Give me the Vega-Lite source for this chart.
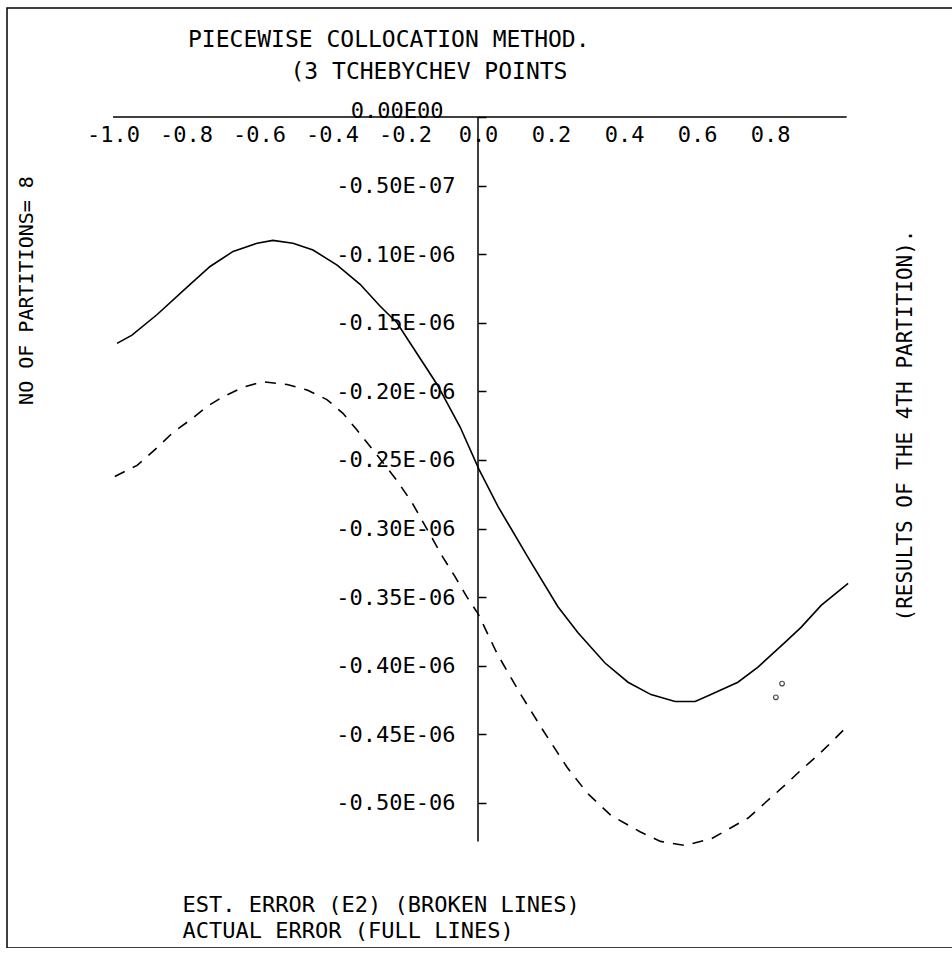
{
  "$schema": "https://vega.github.io/schema/vega-lite/v6.json",
  "width": 953,
  "height": 940,
  "autosize": {"type": "none"},
  "padding": {"left": 7, "top": 8, "right": 0, "bottom": 0},
  "background": "white",
  "config": {
    "view": {"stroke": "black", "strokeWidth": 1.5},
    "font": "DejaVu Sans Mono",
    "axis": {"labelFont": "DejaVu Sans Mono", "titleFont": "DejaVu Sans Mono", "labelColor": "black", "titleColor": "black", "grid": false, "titleFontWeight": "normal"}
  },
  "title": {
    "text": "PIECEWISE COLLOCATION METHOD.",
    "anchor": "start",
    "frame": "group",
    "orient": "top",
    "offset": -44,
    "dx": 181,
    "font": "DejaVu Sans Mono",
    "fontSize": 23,
    "fontWeight": "normal",
    "color": "black"
  },
  "datasets": {
    "curves": [
      {"series": "Actual error", "x": -0.989, "err": -0.165},
      {"series": "Actual error", "x": -0.948, "err": -0.159},
      {"series": "Actual error", "x": -0.879, "err": -0.144},
      {"series": "Actual error", "x": -0.797, "err": -0.124},
      {"series": "Actual error", "x": -0.734, "err": -0.109},
      {"series": "Actual error", "x": -0.671, "err": -0.098},
      {"series": "Actual error", "x": -0.605, "err": -0.092},
      {"series": "Actual error", "x": -0.562, "err": -0.090},
      {"series": "Actual error", "x": -0.507, "err": -0.092},
      {"series": "Actual error", "x": -0.452, "err": -0.097},
      {"series": "Actual error", "x": -0.386, "err": -0.108},
      {"series": "Actual error", "x": -0.323, "err": -0.122},
      {"series": "Actual error", "x": -0.268, "err": -0.138},
      {"series": "Actual error", "x": -0.222, "err": -0.150},
      {"series": "Actual error", "x": -0.178, "err": -0.168},
      {"series": "Actual error", "x": -0.112, "err": -0.195},
      {"series": "Actual error", "x": -0.049, "err": -0.226},
      {"series": "Actual error", "x": 0.003, "err": -0.257},
      {"series": "Actual error", "x": 0.055, "err": -0.284},
      {"series": "Actual error", "x": 0.137, "err": -0.321},
      {"series": "Actual error", "x": 0.219, "err": -0.357},
      {"series": "Actual error", "x": 0.274, "err": -0.376},
      {"series": "Actual error", "x": 0.348, "err": -0.398},
      {"series": "Actual error", "x": 0.411, "err": -0.412},
      {"series": "Actual error", "x": 0.474, "err": -0.421},
      {"series": "Actual error", "x": 0.540, "err": -0.426},
      {"series": "Actual error", "x": 0.595, "err": -0.426},
      {"series": "Actual error", "x": 0.638, "err": -0.421},
      {"series": "Actual error", "x": 0.712, "err": -0.412},
      {"series": "Actual error", "x": 0.767, "err": -0.401},
      {"series": "Actual error", "x": 0.841, "err": -0.383},
      {"series": "Actual error", "x": 0.885, "err": -0.372},
      {"series": "Actual error", "x": 0.940, "err": -0.356},
      {"series": "Actual error", "x": 1.014, "err": -0.340},
      {"series": "Estimated error (E2)", "x": -0.995, "err": -0.262},
      {"series": "Estimated error (E2)", "x": -0.934, "err": -0.254},
      {"series": "Estimated error (E2)", "x": -0.879, "err": -0.241},
      {"series": "Estimated error (E2)", "x": -0.836, "err": -0.230},
      {"series": "Estimated error (E2)", "x": -0.789, "err": -0.221},
      {"series": "Estimated error (E2)", "x": -0.742, "err": -0.211},
      {"series": "Estimated error (E2)", "x": -0.699, "err": -0.204},
      {"series": "Estimated error (E2)", "x": -0.644, "err": -0.197},
      {"series": "Estimated error (E2)", "x": -0.589, "err": -0.193},
      {"series": "Estimated error (E2)", "x": -0.523, "err": -0.195},
      {"series": "Estimated error (E2)", "x": -0.468, "err": -0.199},
      {"series": "Estimated error (E2)", "x": -0.414, "err": -0.206},
      {"series": "Estimated error (E2)", "x": -0.370, "err": -0.216},
      {"series": "Estimated error (E2)", "x": -0.332, "err": -0.228},
      {"series": "Estimated error (E2)", "x": -0.275, "err": -0.247},
      {"series": "Estimated error (E2)", "x": -0.222, "err": -0.265},
      {"series": "Estimated error (E2)", "x": -0.181, "err": -0.281},
      {"series": "Estimated error (E2)", "x": -0.096, "err": -0.321},
      {"series": "Estimated error (E2)", "x": -0.063, "err": -0.335},
      {"series": "Estimated error (E2)", "x": -0.030, "err": -0.350},
      {"series": "Estimated error (E2)", "x": 0.000, "err": -0.362},
      {"series": "Estimated error (E2)", "x": 0.052, "err": -0.391},
      {"series": "Estimated error (E2)", "x": 0.115, "err": -0.420},
      {"series": "Estimated error (E2)", "x": 0.178, "err": -0.447},
      {"series": "Estimated error (E2)", "x": 0.244, "err": -0.474},
      {"series": "Estimated error (E2)", "x": 0.300, "err": -0.493},
      {"series": "Estimated error (E2)", "x": 0.364, "err": -0.509},
      {"series": "Estimated error (E2)", "x": 0.444, "err": -0.521},
      {"series": "Estimated error (E2)", "x": 0.500, "err": -0.528},
      {"series": "Estimated error (E2)", "x": 0.567, "err": -0.531},
      {"series": "Estimated error (E2)", "x": 0.640, "err": -0.526},
      {"series": "Estimated error (E2)", "x": 0.740, "err": -0.511},
      {"series": "Estimated error (E2)", "x": 0.786, "err": -0.500},
      {"series": "Estimated error (E2)", "x": 0.841, "err": -0.487},
      {"series": "Estimated error (E2)", "x": 0.885, "err": -0.476},
      {"series": "Estimated error (E2)", "x": 0.932, "err": -0.465},
      {"series": "Estimated error (E2)", "x": 0.967, "err": -0.456},
      {"series": "Estimated error (E2)", "x": 1.008, "err": -0.445}
    ],
    "circles": [
      {"x": 0.833, "err": -0.413},
      {"x": 0.816, "err": -0.423}
    ]
  },
  "layer": [
    {
      "data": {"name": "curves"},
      "transform": [{"filter": "datum.series == 'Actual error'"}],
      "mark": {"type": "line", "color": "black", "strokeWidth": 1.6},
      "encoding": {
        "x": {
          "field": "x", "type": "quantitative",
          "scale": {"domain": [-1.2904, 1.3205], "nice": false, "zero": false},
          "axis": {
            "orient": "bottom", "offset": -831, "domain": false, "ticks": false, "grid": false,
            "values": [-1, -0.8, -0.6, -0.4, -0.2, 0, 0.2, 0.4, 0.6, 0.8],
            "labelExpr": "(datum.value < -0.001 ? '-' : '') + format(abs(datum.value), '.1f')",
            "labelFontSize": 22, "labelPadding": 7, "title": null,
            "labelFlush": false, "labelOverlap": false
          }
        },
        "y": {
          "field": "err", "type": "quantitative",
          "scale": {"domain": [-0.6057, 0.0794], "nice": false, "zero": false},
          "axis": {
            "orient": "left", "offset": -471, "domain": false, "grid": false, "ticks": false,
            "values": [0, -0.05, -0.1, -0.15, -0.2, -0.25, -0.3, -0.35, -0.4, -0.45, -0.5],
            "labelExpr": "datum.value > -0.001 ? '0.00E00' : (datum.value > -0.06 ? '-0.50E-07' : '-' + format(abs(datum.value), '.2f') + 'E-06')",
            "labelFontSize": 22,
            "labelPadding": {"condition": {"test": "datum.value == 0", "value": 35}, "value": 23},
            "labelOffset": {"condition": {"test": "datum.value == 0", "value": -6}, "value": 0},
            "title": null,
            "labelFlush": false, "labelOverlap": false
          }
        }
      }
    },
    {
      "data": {"name": "curves"},
      "transform": [{"filter": "datum.series == 'Estimated error (E2)'"}],
      "mark": {"type": "line", "color": "black", "strokeWidth": 1.6, "strokeDash": [11, 9]},
      "encoding": {
        "x": {
          "field": "x", "type": "quantitative",
          "scale": {"domain": [-1.2904, 1.3205], "nice": false, "zero": false},
          "axis": {
            "orient": "top", "domain": false, "ticks": false, "labels": false, "grid": false,
            "title": "(3 TCHEBYCHEV POINTS",
            "titleX": 283, "titleY": 63, "titleAlign": "left", "titleAnchor": "start",
            "titleBaseline": "middle", "titleAngle": 0,
            "titleFontSize": 23, "titleFontWeight": "normal"
          }
        },
        "y": {
          "field": "err", "type": "quantitative",
          "scale": {"domain": [-0.6057, 0.0794], "nice": false, "zero": false},
          "axis": {
            "orient": "right", "offset": -482, "domain": false, "grid": false, "labels": false,
            "tickSize": 8, "tickColor": "black", "tickWidth": 1.5,
            "values": [0, -0.05, -0.1, -0.15, -0.2, -0.25, -0.3, -0.35, -0.4, -0.45, -0.5],
            "title": null
          }
        }
      }
    },
    {
      "data": {"name": "circles"},
      "mark": {"type": "point", "shape": "circle", "filled": false, "color": "black", "size": 22, "strokeWidth": 1.2},
      "encoding": {
        "x": {"field": "x", "type": "quantitative", "scale": {"domain": [-1.2904, 1.3205], "nice": false, "zero": false}, "axis": null},
        "y": {"field": "err", "type": "quantitative", "scale": {"domain": [-0.6057, 0.0794], "nice": false, "zero": false}, "axis": null}
      }
    },
    {
      "data": {"values": [{}]},
      "mark": {"type": "rule", "color": "black", "strokeWidth": 1.5},
      "encoding": {
        "x": {"datum": -1.0, "type": "quantitative", "scale": {"domain": [-1.2904, 1.3205], "nice": false, "zero": false}, "axis": null},
        "x2": {"datum": 1.01},
        "y": {
          "datum": 0, "type": "quantitative",
          "scale": {"domain": [-0.6057, 0.0794], "nice": false, "zero": false},
          "axis": {
            "orient": "right", "domain": false, "ticks": false, "labels": false, "grid": false,
            "title": "(RESULTS OF THE 4TH PARTITION).",
            "titleAngle": 270, "titleX": -55, "titleY": 417,
            "titleAlign": "center", "titleBaseline": "middle",
            "titleFontSize": 21, "titleFontWeight": "normal"
          }
        }
      }
    },
    {
      "data": {"values": [{}]},
      "mark": {"type": "rule", "color": "black", "strokeWidth": 1.5},
      "encoding": {
        "x": {
          "datum": 0, "type": "quantitative",
          "scale": {"domain": [-1.2904, 1.3205], "nice": false, "zero": false},
          "axis": {
            "orient": "bottom", "domain": false, "ticks": false, "labels": false, "grid": false,
            "title": ["EST. ERROR (E2) (BROKEN LINES)", "ACTUAL ERROR (FULL LINES)"],
            "titleX": 175, "titleY": -54, "titleAlign": "left", "titleAnchor": "start",
            "titleBaseline": "top", "titleLineHeight": 26, "titleFontSize": 22, "titleFontWeight": "normal"
          }
        },
        "y": {
          "datum": 0, "type": "quantitative",
          "scale": {"domain": [-0.6057, 0.0794], "nice": false, "zero": false},
          "axis": {
            "orient": "left", "domain": false, "ticks": false, "labels": false, "grid": false,
            "title": "NO OF PARTITIONS= 8",
            "titleAngle": 270, "titleX": 19, "titleY": 282,
            "titleAlign": "center", "titleBaseline": "middle",
            "titleFontSize": 20, "titleFontWeight": "normal"
          }
        },
        "y2": {"datum": -0.528}
      }
    }
  ],
  "resolve": {"axis": {"x": "independent", "y": "independent"}}
}
